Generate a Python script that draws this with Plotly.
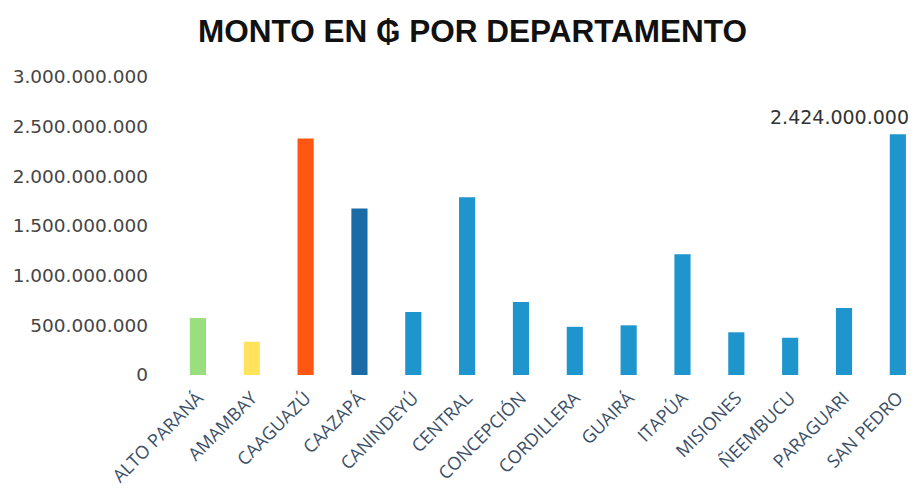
import plotly.graph_objects as go

departamentos = ["ALTO PARANÁ", "AMAMBAY", "CAAGUAZÚ", "CAAZAPÁ", "CANINDEYÚ", "CENTRAL",
                 "CONCEPCIÓN", "CORDILLERA", "GUAIRÁ", "ITAPÚA", "MISIONES", "ÑEEMBUCU",
                 "PARAGUARI", "SAN PEDRO"]
montos = [575000000, 335000000, 2380000000, 1675000000, 635000000, 1790000000,
          735000000, 485000000, 500000000, 1215000000, 430000000, 375000000,
          675000000, 2424000000]
colores = ["#9ADF7E", "#FFE35C", "#FF5712", "#1B6BA7", "#1F95CD", "#1F95CD",
           "#1F95CD", "#1F95CD", "#1F95CD", "#1F95CD", "#1F95CD", "#1F95CD",
           "#1F95CD", "#1F95CD"]
tick_vals = [0, 500000000, 1000000000, 1500000000, 2000000000, 2500000000, 3000000000]
tick_text = ["0", "500.000.000", "1.000.000.000", "1.500.000.000", "2.000.000.000",
             "2.500.000.000", "3.000.000.000"]
etiqueta = "2.424.000.000"

fig = go.Figure(go.Bar(x=departamentos, y=montos, marker=dict(color=colores, line=dict(width=0)),
                       width=0.3))

fig.add_annotation(x=departamentos[-1], y=montos[-1], text=etiqueta, showarrow=False,
                   xshift=-58, yshift=17, font=dict(family="DejaVu Sans", size=19, color="#333333"))

fig.update_layout(
    width=914, height=490,
    margin=dict(l=171, r=0, t=77, b=115),
    paper_bgcolor="white", plot_bgcolor="white",
    title=dict(text="<b>MONTO EN ₲ POR DEPARTAMENTO</b>", x=0.517, xanchor="center",
               y=0.937, yanchor="middle",
               font=dict(family="Liberation Sans", size=31.5, color="#111111")),
    showlegend=False,
    xaxis=dict(range=[-0.5, 13.3], tickangle=-45, showgrid=False, showline=False,
               ticks="", automargin=False, ticklabelstandoff=8,
               tickfont=dict(family="Open Sans", size=18, color="#3b5068")),
    yaxis=dict(range=[0, 3000000000], tickvals=tick_vals, ticktext=tick_text,
               showgrid=False, zeroline=False, showline=False, ticks="",
               automargin=False, ticklabelstandoff=22,
               tickfont=dict(family="DejaVu Sans", size=18.5, color="#454545")),
)

fig.write_html("out.html", config={"displayModeBar": False},
               post_script="document.body.style.margin='0';document.body.style.overflow='hidden';")
